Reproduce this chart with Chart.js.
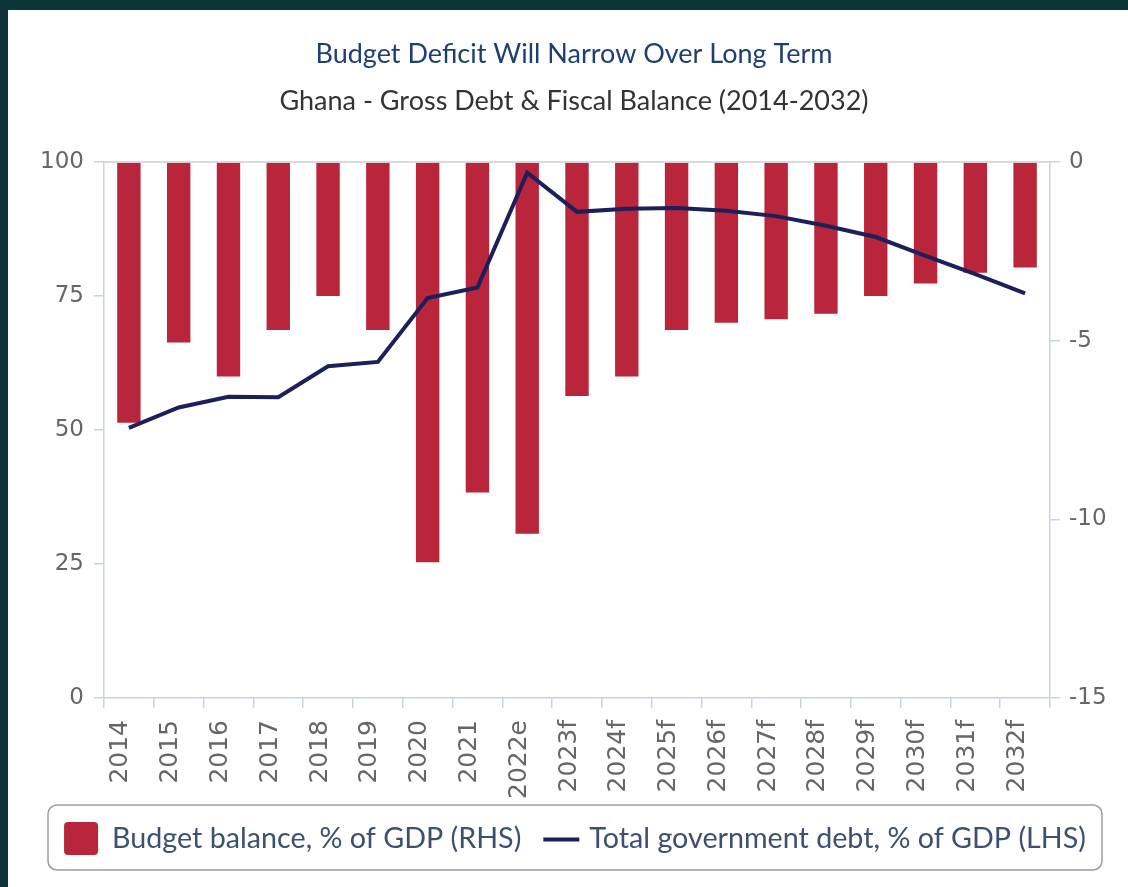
<!DOCTYPE html>
<html>
<head>
<meta charset="utf-8">
<title>Ghana - Gross Debt & Fiscal Balance</title>
<script src="https://cdn.jsdelivr.net/npm/chart.js@4.4.1/dist/chart.umd.min.js"></script>
<style>
    html, body { margin: 0; padding: 0; background: #0d3538; }
    #marco { position: absolute; left: 8px; top: 10px; width: 1120px; height: 877px; background: #fff; }
    #grafica { display: block; }
</style>
</head>
<body>
<div id="marco">
    <canvas id="grafica" width="1120" height="877"></canvas>
</div>
<script>
    // Datos: saldo presupuestario (eje derecho) y deuda total (eje izquierdo), % del PIB
    const anios = ['2014', '2015', '2016', '2017', '2018', '2019', '2020', '2021', '2022e',
        '2023f', '2024f', '2025f', '2026f', '2027f', '2028f', '2029f', '2030f', '2031f', '2032f'];
    const saldoPresupuestario = [-7.3, -5.05, -6.0, -4.7, -3.75, -4.7, -11.2, -9.25, -10.4,
        -6.55, -6.0, -4.7, -4.5, -4.4, -4.25, -3.75, -3.4, -3.1, -2.95];
    const deudaTotal = [50.4, 54.2, 56.2, 56.1, 61.9, 62.7, 74.6, 76.6, 98.0,
        90.7, 91.3, 91.4, 90.9, 89.9, 88.1, 86.0, 82.5, 79.1, 75.5];
    const ticksDeuda = [0, 25, 50, 75, 100];
    const ticksSaldo = [-15, -10, -5, 0];

    const rojo = '#b9253a';
    const azul = '#1d1f5b';
    const ejeColor = '#c6d4e4';
    const textoTicks = '#666666';

    // Recuadro de la leyenda con sus marcadores, dibujado debajo del eje X
    const leyendaRecuadro = {
        id: 'leyendaRecuadro',
        afterDraw(chart) {
            const ctx = chart.ctx;
            const caja = { x: 40, y: 795, w: 1054, h: 65 };
            const medioY = caja.y + caja.h / 2 + 1;

            ctx.save();
            ctx.strokeStyle = '#9c9c9c';
            ctx.lineWidth = 1.5;
            ctx.beginPath();
            ctx.roundRect(caja.x, caja.y, caja.w, caja.h, 9);
            ctx.stroke();

            ctx.font = '28.7px Lato';
            ctx.textBaseline = 'middle';
            const datasets = chart.data.datasets;
            const texto1 = datasets[0].label;
            const texto2 = datasets[1].label;
            const total = 34 + 14 + ctx.measureText(texto1).width + 22 + 36 + 10 + ctx.measureText(texto2).width;
            let x = caja.x + (caja.w - total) / 2;

            ctx.fillStyle = rojo;
            ctx.beginPath();
            ctx.roundRect(x, medioY - 16.5, 34, 33, 4);
            ctx.fill();
            x += 34 + 14;
            ctx.fillStyle = '#3c5070';
            ctx.fillText(texto1, x, medioY);
            x += ctx.measureText(texto1).width + 22;

            ctx.strokeStyle = azul;
            ctx.lineWidth = 4;
            ctx.beginPath();
            ctx.moveTo(x, medioY + 1);
            ctx.lineTo(x + 36, medioY + 1);
            ctx.stroke();
            x += 36 + 10;
            ctx.fillText(texto2, x, medioY);

            // linea superior del area de la grafica
            const area = chart.chartArea;
            ctx.strokeStyle = '#cfcfcf';
            ctx.lineWidth = 1.5;
            ctx.beginPath();
            ctx.moveTo(area.left, area.top);
            ctx.lineTo(area.right, area.top);
            ctx.stroke();
            ctx.restore();
        }
    };

    Chart.defaults.font.family = 'DejaVu Sans';
    Chart.defaults.color = textoTicks;

    const ctx = document.getElementById('grafica');
    new Chart(ctx, {
        type: 'bar',
        data: {
            labels: anios,
            datasets: [{
                type: 'bar',
                label: 'Budget balance, % of GDP (RHS)',
                data: saldoPresupuestario,
                yAxisID: 'y1',
                backgroundColor: rojo,
                borderWidth: 0,
                categoryPercentage: 1,
                barPercentage: 0.47,
                order: 1
            }, {
                type: 'line',
                label: 'Total government debt, % of GDP (LHS)',
                data: deudaTotal,
                yAxisID: 'y',
                borderColor: azul,
                backgroundColor: azul,
                borderWidth: 4,
                pointRadius: 0,
                tension: 0,
                order: 0
            }]
        },
        options: {
            responsive: false,
            animation: false,
            layout: {
                padding: { left: 12, right: 0, top: 0, bottom: 79 }
            },
            scales: {
                x: {
                    offset: true,
                    grid: {
                        offset: true,
                        drawOnChartArea: false,
                        tickLength: 10,
                        color: ejeColor,
                        lineWidth: 1.5
                    },
                    border: { color: ejeColor, width: 1.5 },
                    ticks: {
                        minRotation: 90,
                        maxRotation: 90,
                        autoSkip: false,
                        padding: 12,
                        labelOffset: -8,
                        font: { size: 25 },
                        color: textoTicks
                    },
                    afterFit(scale) { scale.height = 110; }
                },
                y: {
                    position: 'left',
                    min: 0,
                    max: 100,
                    afterBuildTicks(scale) { scale.ticks = ticksDeuda.map(v => ({ value: v })); },
                    grid: {
                        drawOnChartArea: false,
                        tickLength: 10,
                        color: ejeColor,
                        lineWidth: 1.5
                    },
                    border: { color: ejeColor, width: 1.5 },
                    ticks: { padding: 10, font: { size: 23 }, color: textoTicks },
                    afterFit(scale) { scale.width = 84; }
                },
                y1: {
                    position: 'right',
                    min: -15,
                    max: 0,
                    afterBuildTicks(scale) { scale.ticks = ticksSaldo.map(v => ({ value: v })); },
                    grid: {
                        drawOnChartArea: false,
                        tickLength: 10,
                        color: ejeColor,
                        lineWidth: 1.5
                    },
                    border: { color: ejeColor, width: 1.5 },
                    ticks: { padding: 9, font: { size: 23 }, color: textoTicks },
                    afterFit(scale) { scale.width = 78; }
                }
            },
            plugins: {
                legend: { display: false },
                tooltip: { enabled: false },
                title: {
                    display: true,
                    text: 'Budget Deficit Will Narrow Over Long Term',
                    color: '#1f3e72',
                    font: { family: 'Lato', size: 27, weight: 'normal' },
                    padding: { top: 28, bottom: 15 }
                },
                subtitle: {
                    display: true,
                    text: 'Ghana - Gross Debt & Fiscal Balance (2014-2032)',
                    color: '#333333',
                    font: { family: 'Lato', size: 27, weight: 'normal' },
                    padding: { top: 0, bottom: 44.2 }
                }
            }
        },
        plugins: [leyendaRecuadro]
    });
</script>
</body>
</html>
